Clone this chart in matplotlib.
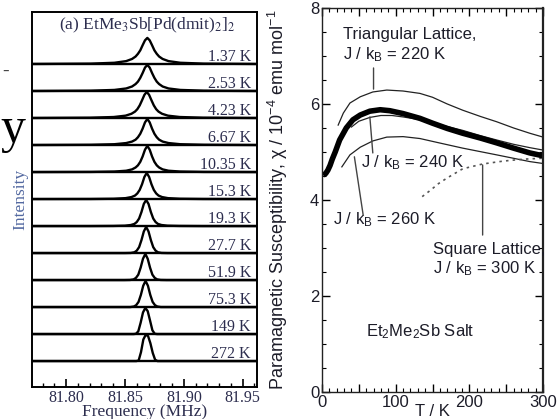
import matplotlib
matplotlib.use("Agg")
import matplotlib.pyplot as plt
from matplotlib.ticker import MultipleLocator, FuncFormatter
import numpy as np

# ---- left panel: 121Sb NMR spectra ----
temps = ["1.37 K", "2.53 K", "4.23 K", "6.67 K", "10.35 K", "15.3 K",
         "19.3 K", "27.7 K", "51.9 K", "75.3 K", "149 K", "272 K"]
centers = [81.869, 81.869, 81.8685, 81.869, 81.869, 81.8685,
           81.868, 81.868, 81.8673, 81.8675, 81.8673, 81.8676]
offsets = [-0.100, -0.048, -0.028, -0.018, -0.013, -0.010, -0.008, -0.006, -0.004, -0.002, 0.0,
           0.002, 0.004, 0.006, 0.008, 0.010, 0.013, 0.018, 0.028, 0.048, 0.095]
spec_137 = [0.004, 0.017, 0.049, 0.11, 0.19, 0.28, 0.38, 0.51, 0.70, 0.88, 0.97,
            0.88, 0.70, 0.51, 0.38, 0.28, 0.19, 0.11, 0.049, 0.017, 0.004]
spec_253 = [0.003, 0.015, 0.043, 0.097, 0.17, 0.26, 0.35, 0.49, 0.67, 0.87, 0.97,
            0.87, 0.67, 0.49, 0.35, 0.26, 0.17, 0.097, 0.043, 0.015, 0.003]
spec_423 = [0.003, 0.014, 0.04, 0.09, 0.16, 0.24, 0.33, 0.47, 0.66, 0.86, 0.97,
            0.86, 0.66, 0.47, 0.33, 0.24, 0.16, 0.09, 0.04, 0.014, 0.003]
spec_667 = [0.002, 0.011, 0.032, 0.075, 0.13, 0.20, 0.29, 0.42, 0.61, 0.84, 0.97,
            0.84, 0.61, 0.42, 0.29, 0.20, 0.13, 0.075, 0.032, 0.011, 0.002]
spec_1035 = [0.0, 0.006, 0.02, 0.05, 0.10, 0.17, 0.25, 0.38, 0.58, 0.83, 0.97,
             0.83, 0.58, 0.38, 0.25, 0.17, 0.10, 0.05, 0.02, 0.006, 0.0]
spec_153 = [0.0, 0.003, 0.012, 0.035, 0.075, 0.13, 0.21, 0.34, 0.55, 0.82, 0.97,
            0.82, 0.55, 0.34, 0.21, 0.13, 0.075, 0.035, 0.012, 0.003, 0.0]
spec_193 = [0.0, 0.0, 0.005, 0.015, 0.04, 0.08, 0.15, 0.28, 0.52, 0.82, 0.97,
            0.82, 0.52, 0.28, 0.15, 0.08, 0.04, 0.015, 0.005, 0.0, 0.0]
spec_277 = [0.0, 0.0, 0.0, 0.0, 0.005, 0.03, 0.09, 0.22, 0.48, 0.80, 0.97,
            0.80, 0.48, 0.22, 0.09, 0.03, 0.005, 0.0, 0.0, 0.0, 0.0]
spec_519 = [0.0, 0.0, 0.0, 0.0, 0.004, 0.025, 0.08, 0.20, 0.46, 0.79, 0.97,
            0.79, 0.46, 0.20, 0.08, 0.025, 0.004, 0.0, 0.0, 0.0, 0.0]
spec_753 = [0.0, 0.0, 0.0, 0.0, 0.0, 0.02, 0.07, 0.19, 0.45, 0.79, 0.97,
            0.79, 0.45, 0.19, 0.07, 0.02, 0.0, 0.0, 0.0, 0.0, 0.0]
spec_149 = [0.0, 0.0, 0.0, 0.0, 0.0, 0.0, 0.01, 0.10, 0.42, 0.80, 0.97,
            0.85, 0.50, 0.14, 0.01, 0.0, 0.0, 0.0, 0.0, 0.0, 0.0]
spec_272 = [0.0, 0.0, 0.0, 0.0, 0.0, 0.0, 0.0, 0.02, 0.33, 0.80, 0.97,
            0.93, 0.66, 0.30, 0.05, 0.0, 0.0, 0.0, 0.0, 0.0, 0.0]
spectra = [spec_137, spec_253, spec_423, spec_667, spec_1035, spec_153,
           spec_193, spec_277, spec_519, spec_753, spec_149, spec_272]

# ---- right panel: susceptibility ----
T_exp = [1.5, 5, 8, 11, 14, 18, 24, 33, 42, 52, 65, 79, 92, 110, 133, 150,
         170, 191, 215, 237, 260, 282, 300]
chi_exp = [4.52, 4.55, 4.62, 4.72, 4.85, 5.0, 5.25, 5.5, 5.67, 5.77, 5.85, 5.88,
           5.86, 5.8, 5.7, 5.6, 5.49, 5.39, 5.29, 5.19, 5.08, 4.98, 4.92]
T_220 = [22, 29, 38, 52, 69, 88, 110, 133, 150, 170, 191, 215, 237, 260, 282, 300]
chi_220 = [5.56, 5.81, 6.02, 6.15, 6.25, 6.29, 6.27, 6.22, 6.14, 6.0, 5.87,
           5.74, 5.63, 5.5, 5.39, 5.31]
T_240 = [40, 50, 65, 80, 95, 110, 130, 150, 170, 191, 215, 237, 260, 282, 300]
chi_240 = [5.52, 5.64, 5.72, 5.76, 5.76, 5.73, 5.68, 5.61, 5.53, 5.45, 5.34,
           5.25, 5.16, 5.09, 5.04]
T_260 = [27, 38, 52, 69, 88, 110, 133, 156, 191, 237, 282, 300]
chi_260 = [4.69, 4.94, 5.1, 5.23, 5.31, 5.32, 5.28, 5.2, 5.08, 4.94, 4.8, 4.76]
T_sq = [136, 147, 158, 170, 191, 218, 246, 273, 300]
chi_sq = [4.07, 4.2, 4.34, 4.46, 4.65, 4.75, 4.81, 4.85, 4.87]

serif = "Liberation Serif"
sans = "Liberation Sans"
navy = "#2c2d4e"
ink = "#1c1c28"

plt.rcParams["mathtext.fontset"] = "custom"
plt.rcParams["mathtext.rm"] = sans
plt.rcParams["mathtext.it"] = sans + ":italic"

fig = plt.figure(figsize=(5.57, 4.19), dpi=100)

# stray bits of the slide behind
fig.text(0.0, 0.69, "y", family=serif, fontsize=36, color="black", va="center")
fig.text(0.004, 0.83, "-", family=serif, fontsize=14, color="#444444", va="center")

ax1 = fig.add_axes([0.0575, 0.0764, 0.4035, 0.895])
n = len(spectra)
for i, (lab, c, h) in enumerate(zip(temps, centers, spectra)):
    base = n - 1 - i
    ax1.axhline(base, color="black", lw=1.7)
    ax1.plot(np.array(offsets) + c, np.array(h) + base, color="black", lw=1.7)
    ax1.text(81.957, base + 0.12, lab, ha="right", va="baseline",
             family=serif, fontsize=11.5, color=navy)

ax1.set_xlim(81.771, 81.962)
ax1.set_ylim(-0.96, 12.93)
ax1.set_yticks([])
ax1.xaxis.set_major_locator(MultipleLocator(0.05))
ax1.xaxis.set_minor_locator(MultipleLocator(0.01))
ax1.xaxis.set_major_formatter(FuncFormatter(lambda v, p: f"{v:.2f}"))
ax1.tick_params(axis="x", which="major", direction="in", length=6, width=1.2,
                labelsize=11.5, pad=2, labelcolor=navy)
ax1.tick_params(axis="x", which="minor", direction="in", length=3, width=1)
for lbl in ax1.get_xticklabels():
    lbl.set_family(serif)
for s in ax1.spines.values():
    s.set_linewidth(1.4)
ax1.text(0.511, 0.965, r"(a) EtMe$_3$Sb[Pd(dmit)$_2$]$_2$", transform=ax1.transAxes,
         ha="center", va="center", family=serif, fontsize=12.5, color=navy,
         math_fontfamily="stix")
ax1.set_xlabel("Frequency (MHz)", family=serif, fontsize=12.5, color=navy, labelpad=-1)
ax1.set_ylabel("Intensity", family=serif, fontsize=12.5, color="#5268a0", labelpad=3)

ax2 = fig.add_axes([0.578, 0.0644, 0.397, 0.9166])
ax2.plot(T_220, chi_220, color="#222222", lw=0.9)
ax2.plot(T_240, chi_240, color="#222222", lw=0.9)
ax2.plot(T_260, chi_260, color="#222222", lw=0.9)
ax2.plot(T_sq, chi_sq, color="#555555", lw=1.2, ls=(0, (1.5, 2.5)))
ax2.plot(T_exp, chi_exp, color="black", lw=4.0, solid_capstyle="butt")

ax2.set_xlim(0, 300)
ax2.set_ylim(0, 8)
ax2.xaxis.set_major_locator(MultipleLocator(50))
ax2.xaxis.set_minor_locator(MultipleLocator(10))
ax2.xaxis.set_major_formatter(FuncFormatter(lambda v, p: f"{v:.0f}" if v % 100 == 0 else ""))
ax2.yaxis.set_major_locator(MultipleLocator(2))
ax2.yaxis.set_minor_locator(MultipleLocator(0.5))
ax2.tick_params(which="major", direction="in", length=6, width=1, top=True,
                labelsize=12, pad=2, labelcolor=ink)
ax2.tick_params(which="minor", direction="in", length=3, width=0.8, top=True)
ax2.tick_params(axis="y", which="both", right=True)
for lbl in ax2.get_xticklabels() + ax2.get_yticklabels():
    lbl.set_family(sans)
for s in ax2.spines.values():
    s.set_linewidth(1.0)
    s.set_color("#222222")
ax2.spines["right"].set_linewidth(1.6)

tkw = dict(family=sans, fontsize=12, color=ink)
ax2.text(28.5, 7.44, "Triangular Lattice,", va="center", **tkw)
ax2.text(28.5, 7.02, r"J / k$_\mathrm{B}$ = 220 K", va="center", **tkw)
ax2.text(53, 4.77, r"J / k$_\mathrm{B}$ = 240 K", va="center", **tkw)
ax2.text(15, 3.6, r"J / k$_\mathrm{B}$ = 260 K", va="center", **tkw)
ax2.text(150.5, 2.96, "Square Lattice,", va="center", **tkw)
ax2.text(150.5, 2.58, r"J / k$_\mathrm{B}$ = 300 K", va="center", **tkw)
ax2.text(60, 1.25, r"Et$_2$Me$_2$Sb Salt", va="center", **tkw)

lk = dict(arrowprops=dict(arrowstyle="-", color="#444444", lw=1.0,
                          shrinkA=0, shrinkB=0))
ax2.annotate("", xy=(70, 6.31), xytext=(70, 6.75), **lk)
ax2.annotate("", xy=(65, 5.73), xytext=(69, 4.98), **lk)
ax2.annotate("", xy=(44, 4.9), xytext=(56, 3.68), **lk)
ax2.annotate("", xy=(218, 4.73), xytext=(218, 3.27), **lk)

ax2.set_xlabel("T / K", family=sans, fontsize=12, color=ink, labelpad=-4)
ax2.set_ylabel(r"Paramagnetic Susceptibility, χ / 10$^{-4}$ emu mol$^{-1}$",
               family=sans, fontsize=13, color=ink)
ax2.yaxis.set_label_coords(-0.145, 0.50)

fig.savefig("out.png", dpi=100)
